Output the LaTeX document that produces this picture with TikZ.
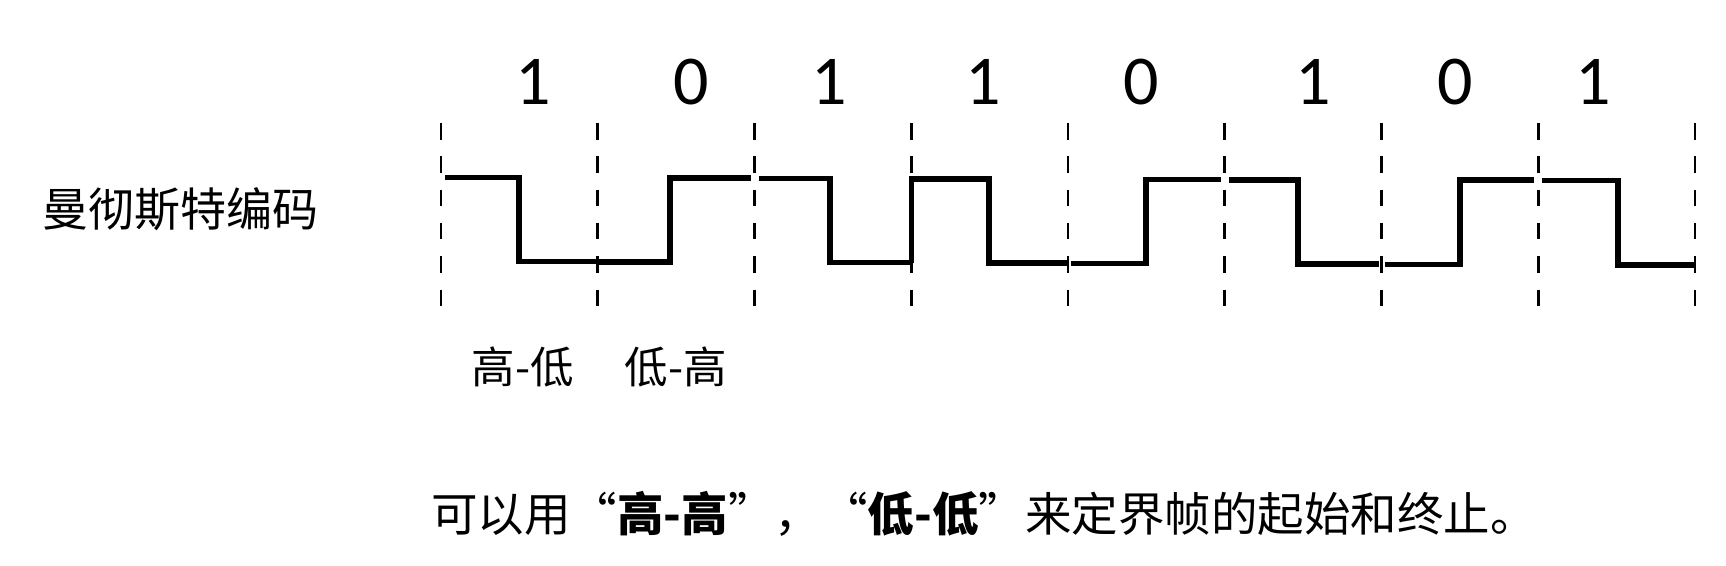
\documentclass[tikz,border=0pt]{standalone}
\usepackage{fontspec}
\setmainfont{Carlito}
\newfontfamily\cjk{Noto Sans CJK SC}
\begin{document}
\begin{tikzpicture}[x=1pt,y=-1pt,
  grid/.style={line width=2.6pt,dash pattern=on 16.5pt off 16.8pt},
  wave/.style={line width=5.5pt},
  digit/.style={inner sep=0pt,font=\fontsize{70}{70}\selectfont},
  lbl/.style={inner sep=0pt,font=\cjk\fontsize{43.5}{43.5}\selectfont},
]
\useasboundingbox (0,0) rectangle (1726,565);
% grid
\foreach \i in {0,...,8}{
  \coordinate (t\i) at ({441+156.75*\i},123);
  \coordinate (b\i) at ({441+156.75*\i},307);
  \draw[grid] (t\i) -- (b\i);
}
% levels per bit (slight drift)
\foreach \i/\xm in {0/519,1/670,2/830,3/989,4/1146,5/1298,6/1460,7/1618}{
  \pgfmathsetmacro{\xa}{441+156.75*\i}
  \pgfmathsetmacro{\xb}{441+156.75*(\i+1)}
  \pgfmathsetmacro{\hy}{177.5+3.2*\i/7}
  \pgfmathsetmacro{\ly}{261.5+3.5*\i/7}
  \coordinate (s\i) at (\xa,0);
  \coordinate (e\i) at (\xb,0);
  \coordinate (m\i) at (\xm,0);
  \coordinate (h\i) at (0,\hy);
  \coordinate (l\i) at (0,\ly);
}
% bits 1 0 1 1 0 1 0 1
\draw[wave] ([xshift=4pt]s0|-h0) -- (m0|-h0) -- (m0|-l0) -- (e0|-l0);
\draw[wave] (s1|-l1) -- (m1|-l1) -- (m1|-h1) -- ([xshift=-4pt]e1|-h1);
\draw[wave] ([xshift=4pt]s2|-h2) -- (m2|-h2) -- (m2|-l2) -- (e2|-l2);
\draw[wave] (s3|-l3) -- (s3|-h3) -- (m3|-h3) -- (m3|-l3) -- (e3|-l3);
\draw[wave] ([xshift=3pt]s4|-l4) -- (m4|-l4) -- (m4|-h4) -- ([xshift=-4pt]e4|-h4);
\draw[wave] ([xshift=4pt]s5|-h5) -- (m5|-h5) -- (m5|-l5) -- ([xshift=-3pt]e5|-l5);
\draw[wave] ([xshift=3pt]s6|-l6) -- (m6|-l6) -- (m6|-h6) -- ([xshift=-4pt]e6|-h6);
\draw[wave] ([xshift=4pt]s7|-h7) -- (m7|-h7) -- (m7|-l7) -- (e7|-l7);
% digits
\node[digit] (d0) at (533,82) {1};
\node[digit] (d1) at (691,82) {0};
\node[digit] (d2) at (829,82) {1};
\node[digit] (d3) at (983,82) {1};
\node[digit] (d4) at (1141,82) {0};
\node[digit] (d5) at (1313,82) {1};
\node[digit] (d6) at (1455,82) {0};
\node[digit] (d7) at (1593,82) {1};
% labels
\node[inner sep=0pt,font=\cjk\fontsize{46}{46}\selectfont] (name) at (180,209) {曼彻斯特编码};
\node[lbl] (hl) at (523,367) {高-低};
\node[lbl] (lh) at (676,367) {低-高};
\node[lbl,font=\cjk\fontsize{46.5}{46.5}\selectfont] (note) at (984,514) {可以用“\textbf{高-高}”，“\textbf{低-低}”来定界帧的起始和终止。};
\end{tikzpicture}
\end{document}
